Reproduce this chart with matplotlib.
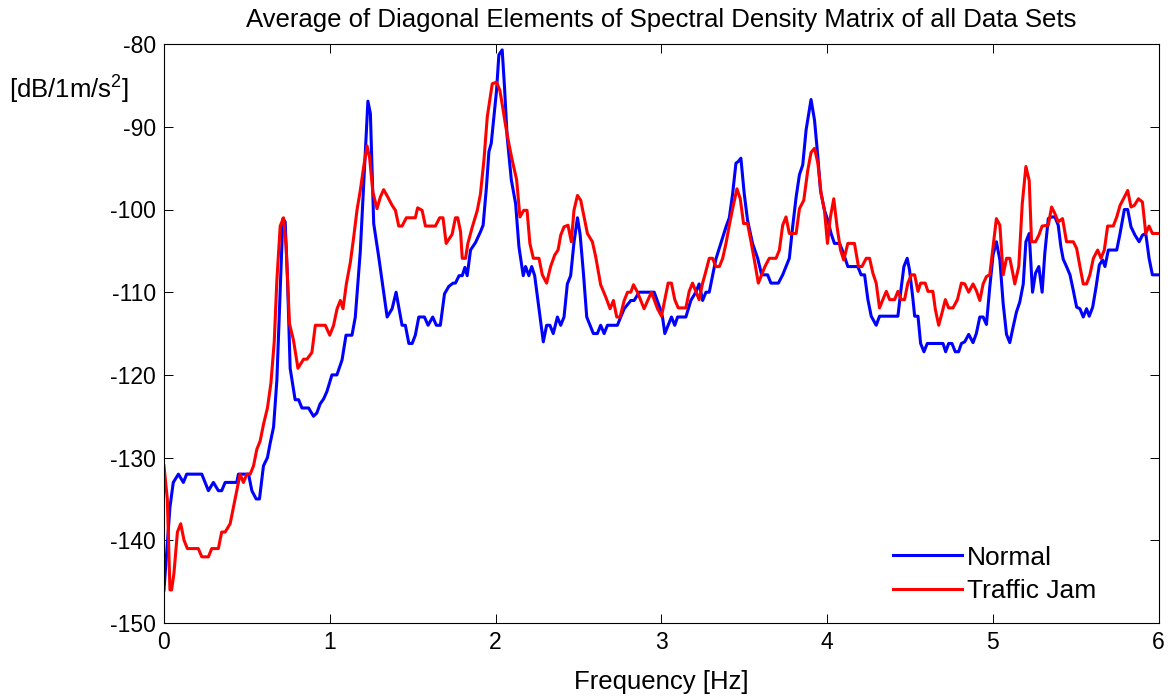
import numpy as np
import matplotlib
matplotlib.use("Agg")
import matplotlib.pyplot as plt

plt.rcParams['font.family'] = ['Liberation Sans', 'DejaVu Sans']
plt.rcParams['mathtext.fontset'] = 'custom'
plt.rcParams['mathtext.rm'] = 'Liberation Sans'
plt.rcParams['mathtext.it'] = 'Liberation Sans'
plt.rcParams['axes.unicode_minus'] = False

# Normal (blue) - frequency [Hz] and level [dB]
freq_normal = [
    0.000, 0.036, 0.056, 0.087, 0.117, 0.137, 0.228, 0.268, 0.298, 0.328,
    0.348, 0.369, 0.439, 0.449, 0.510, 0.530, 0.556, 0.576, 0.600, 0.624,
    0.640, 0.661, 0.681, 0.701, 0.717, 0.731, 0.745, 0.761, 0.791, 0.812,
    0.832, 0.872, 0.902, 0.922, 0.942, 0.963, 0.983, 1.013, 1.043, 1.074,
    1.098, 1.134, 1.154, 1.184, 1.204, 1.230, 1.245, 1.265, 1.295, 1.320,
    1.346, 1.376, 1.400, 1.436, 1.456, 1.477, 1.497, 1.516, 1.537, 1.571,
    1.593, 1.621, 1.643, 1.667, 1.692, 1.718, 1.744, 1.758, 1.780, 1.799,
    1.815, 1.829, 1.849, 1.879, 1.909, 1.925, 1.945, 1.960, 1.974, 1.986,
    2.006, 2.020, 2.040, 2.054, 2.070, 2.095, 2.121, 2.141, 2.167, 2.181,
    2.201, 2.218, 2.236, 2.262, 2.288, 2.308, 2.328, 2.348, 2.373, 2.393,
    2.413, 2.433, 2.453, 2.473, 2.494, 2.510, 2.530, 2.550, 2.574, 2.590,
    2.614, 2.634, 2.655, 2.675, 2.735, 2.755, 2.776, 2.816, 2.836, 2.866,
    2.896, 2.957, 2.993, 3.007, 3.021, 3.041, 3.061, 3.081, 3.098, 3.148,
    3.178, 3.208, 3.228, 3.249, 3.269, 3.289, 3.309, 3.329, 3.360, 3.390,
    3.410, 3.430, 3.450, 3.464, 3.480, 3.500, 3.520, 3.550, 3.581, 3.605,
    3.641, 3.661, 3.706, 3.732, 3.772, 3.792, 3.813, 3.833, 3.853, 3.873,
    3.903, 3.924, 3.944, 3.960, 3.984, 4.004, 4.024, 4.044, 4.075, 4.095,
    4.125, 4.185, 4.205, 4.226, 4.246, 4.266, 4.296, 4.316, 4.427, 4.443,
    4.463, 4.483, 4.497, 4.518, 4.528, 4.548, 4.564, 4.584, 4.604, 4.699,
    4.715, 4.733, 4.753, 4.773, 4.793, 4.810, 4.830, 4.854, 4.880, 4.900,
    4.921, 4.941, 4.961, 4.981, 5.001, 5.021, 5.042, 5.062, 5.082, 5.102,
    5.122, 5.142, 5.162, 5.183, 5.199, 5.219, 5.239, 5.257, 5.277, 5.297,
    5.313, 5.334, 5.354, 5.374, 5.394, 5.410, 5.424, 5.444, 5.465, 5.485,
    5.505, 5.525, 5.545, 5.565, 5.581, 5.602, 5.622, 5.642, 5.662, 5.676,
    5.696, 5.747, 5.767, 5.793, 5.813, 5.833, 5.857, 5.882, 5.902, 5.922,
    5.942, 5.962, 6.000]
normal_db = [
    -146, -136, -133, -132, -133, -132, -132, -134, -133, -134,
    -134, -133, -133, -132, -132, -134, -135, -135, -131, -130,
    -128.3, -126.3, -120.6, -109.8, -101.1, -101.5, -108.5, -119.2, -123, -123,
    -124, -124, -125, -124.6, -123.5, -122.9, -122, -120, -120, -118.2,
    -115.2, -115.2, -113, -105.1, -97.3, -86.9, -88.4, -101.7, -105.7, -109.3,
    -113, -112, -110, -114, -114, -116.2, -116.2, -115.2, -113, -113,
    -114, -113, -114, -114, -110.2, -109.3, -108.9, -108.9, -108, -108,
    -107, -108, -104.9, -104, -102.7, -101.9, -97.3, -93, -92, -89.6,
    -85.6, -81.3, -80.7, -85.2, -91.2, -96.4, -99.3, -104.5, -108, -106.9,
    -108, -106.9, -108, -112, -116, -114, -114, -115, -113, -114,
    -113, -109, -108, -104, -101, -103, -107.7, -113, -114.2, -115,
    -115, -114, -115, -114, -114, -113, -112, -111, -111, -110,
    -110, -110, -112, -113, -115, -114, -113, -114, -113, -113,
    -111, -110, -109, -111, -110, -110, -108, -106, -104, -102.1,
    -101, -98.1, -94.4, -94.2, -93.8, -98.1, -101.3, -104.1, -105.9, -107.9,
    -107.9, -108.9, -108.9, -107.9, -105.9, -102.1, -98.5, -95.8, -94.6, -90.4,
    -86.7, -89.2, -93.6, -97.7, -100.1, -101.3, -102.9, -104.1, -104.1, -105.1,
    -106.9, -106.9, -107.9, -107.9, -110.9, -112.9, -114, -112.9, -112.9, -110.1,
    -106.9, -105.9, -107.3, -110.9, -112.9, -112.9, -116.2, -117.2, -116.2, -116.2,
    -117.2, -116.2, -116.2, -117.2, -117.2, -116.2, -116, -115.1, -116.1, -115,
    -113, -113, -113.9, -109.4, -105.5, -103.9, -106.1, -111.4, -115.1, -116.1,
    -114.2, -112.4, -111.2, -109, -103.9, -102.9, -110, -107.7, -106.9, -110,
    -105.3, -101.1, -100.9, -100.9, -101.9, -104.5, -106, -106.9, -107.9, -109.8,
    -111.8, -112, -113, -112, -112.9, -111.8, -109.4, -106.7, -106.1, -106.9,
    -104.9, -104.9, -102.9, -100, -100, -102.1, -103.1, -103.9, -103.1, -102.9,
    -105.9, -107.9, -107.9]

# Traffic Jam (red)
freq_jam = [
    0.000, 0.020, 0.036, 0.046, 0.060, 0.081, 0.101, 0.121, 0.141, 0.207,
    0.228, 0.268, 0.288, 0.328, 0.348, 0.369, 0.399, 0.419, 0.439, 0.459,
    0.479, 0.500, 0.520, 0.540, 0.560, 0.580, 0.600, 0.624, 0.645, 0.665,
    0.681, 0.701, 0.721, 0.737, 0.757, 0.781, 0.808, 0.842, 0.862, 0.892,
    0.913, 0.973, 1.000, 1.023, 1.044, 1.064, 1.080, 1.100, 1.124, 1.144,
    1.164, 1.184, 1.204, 1.225, 1.240, 1.260, 1.285, 1.305, 1.325, 1.350,
    1.376, 1.396, 1.416, 1.436, 1.462, 1.516, 1.530, 1.557, 1.577, 1.637,
    1.663, 1.683, 1.702, 1.738, 1.758, 1.772, 1.789, 1.799, 1.819, 1.833,
    1.860, 1.890, 1.909, 1.930, 1.950, 1.980, 2.006, 2.026, 2.046, 2.060,
    2.080, 2.100, 2.127, 2.147, 2.170, 2.190, 2.207, 2.228, 2.262, 2.282,
    2.308, 2.332, 2.357, 2.377, 2.393, 2.413, 2.437, 2.457, 2.473, 2.494,
    2.514, 2.534, 2.554, 2.584, 2.604, 2.634, 2.665, 2.691, 2.711, 2.731,
    2.751, 2.776, 2.796, 2.816, 2.832, 2.856, 2.896, 2.940, 2.977, 3.001,
    3.021, 3.041, 3.061, 3.081, 3.102, 3.148, 3.168, 3.188, 3.208, 3.228,
    3.249, 3.263, 3.289, 3.309, 3.329, 3.350, 3.370, 3.390, 3.410, 3.430,
    3.456, 3.476, 3.496, 3.520, 3.541, 3.561, 3.585, 3.605, 3.625, 3.651,
    3.692, 3.712, 3.732, 3.752, 3.772, 3.813, 3.833, 3.859, 3.883, 3.903,
    3.924, 3.944, 3.964, 3.984, 4.002, 4.020, 4.040, 4.060, 4.081, 4.100,
    4.125, 4.165, 4.189, 4.210, 4.236, 4.256, 4.276, 4.296, 4.316, 4.336,
    4.357, 4.377, 4.407, 4.427, 4.447, 4.467, 4.487, 4.508, 4.528, 4.548,
    4.564, 4.592, 4.608, 4.638, 4.653, 4.673, 4.693, 4.713, 4.733, 4.759,
    4.786, 4.810, 4.830, 4.854, 4.880, 4.900, 4.921, 4.941, 4.961, 4.981,
    5.001, 5.021, 5.042, 5.062, 5.082, 5.102, 5.122, 5.132, 5.156, 5.177,
    5.199, 5.219, 5.233, 5.257, 5.277, 5.297, 5.334, 5.354, 5.374, 5.394,
    5.420, 5.444, 5.485, 5.505, 5.525, 5.545, 5.565, 5.585, 5.606, 5.632,
    5.652, 5.672, 5.692, 5.726, 5.747, 5.767, 5.793, 5.813, 5.833, 5.853,
    5.878, 5.902, 5.922, 5.942, 5.962, 6.000]
jam_db = [
    -131, -135, -146, -146, -144, -139, -138, -140, -141, -141,
    -142, -142, -141, -141, -139, -139, -138, -136, -134, -132,
    -133, -132, -132, -131, -129, -128, -126, -124, -121, -116,
    -108.5, -102, -101, -104.5, -113.8, -115.8, -119.2, -118.1, -118.1, -117.3,
    -114, -114, -115.2, -114, -112, -111, -112, -109, -106.4, -103.4,
    -100.1, -97.7, -94.9, -92.3, -93.7, -97.9, -99.9, -98.5, -97.6, -98.5,
    -99.5, -100.1, -102, -102, -101, -101, -99.8, -100.1, -102, -102,
    -101, -101, -104.1, -103, -101, -101, -102.7, -105.9, -105.9, -104.1,
    -102.1, -100.1, -98.1, -94, -88.8, -84.8, -84.6, -85.6, -88, -89.8,
    -92, -94, -96.4, -100.9, -100.1, -100.1, -104.1, -105.9, -105.9, -107.9,
    -108.9, -106.9, -105.5, -104.9, -103.1, -102.1, -101.9, -103.9, -100.1, -98.3,
    -98.9, -100.9, -102.9, -103.9, -105.7, -109.1, -110.6, -112, -111, -113,
    -113, -111, -110, -110, -109.1, -110, -112, -110, -112, -112.9,
    -110.9, -108.9, -108.9, -110.9, -111.9, -111.9, -109.9, -108.9, -109.9, -110.9,
    -108.9, -107.9, -105.9, -105.9, -106.9, -106.9, -105.9, -104.1, -101.9, -99.9,
    -97.5, -98.7, -101.7, -101.7, -103.9, -106.1, -108.9, -107.9, -106.9, -105.9,
    -105.9, -104.9, -101.9, -100.9, -102.9, -102.9, -99.9, -98.9, -95.3, -93.1,
    -92.6, -94.4, -98.1, -100.1, -104.1, -100.9, -98.7, -102.1, -104.9, -106.1,
    -104.1, -104.1, -106.9, -106.9, -105.9, -105.9, -107.7, -108.9, -111.9, -110.9,
    -109.9, -110.9, -110.9, -109.9, -110.9, -110.9, -108.9, -107.9, -107.9, -109.9,
    -108.9, -108.9, -109.9, -109.9, -112.1, -114, -112.5, -110.9, -111.9, -111.9,
    -110.9, -108.9, -109, -110, -109, -109.8, -111, -109, -108.1, -107.9,
    -104.5, -101.1, -101.9, -107.9, -105.9, -105.9, -107.9, -109, -106.9, -99.3,
    -94.8, -96.5, -103.9, -103.9, -103.1, -102, -101.9, -99.7, -100.5, -101.5,
    -101.1, -103.9, -103.9, -104.7, -106.9, -109, -109, -107.9, -105.9, -104.9,
    -105.9, -104.9, -102, -102, -100.9, -99.5, -98.5, -97.7, -99.7, -99.5,
    -98.7, -99.1, -102.9, -102, -102.9, -102.9]

fig = plt.figure(figsize=(11.73, 7.0), dpi=100)
ax = fig.add_axes([0.1398, 0.110, 0.848, 0.827])

ax.plot(freq_normal, normal_db, color=(0, 0, 1), lw=2.2, label='Normal')
ax.plot(freq_jam, jam_db, color=(1, 0, 0), lw=2.2, label='Traffic Jam')

ax.set_xlim(0, 6)
ax.set_ylim(-150, -80)
ax.set_xticks(np.arange(0, 7, 1))
ax.set_yticks(np.arange(-150, -79, 10))
ax.tick_params(direction='in', top=True, right=True, length=6.5, width=0.7,
               labelsize=16.5, pad=6)
for s in ax.spines.values():
    s.set_linewidth(0.8)

ax.set_title('Average of Diagonal Elements of Spectral Density Matrix of all Data Sets',
             fontsize=18.5, pad=12)
ax.set_xlabel('Frequency [Hz]', fontsize=18.5, labelpad=11)
fig.text(0.008, 0.872, '[dB/1m/s$^2$]', fontsize=18.5, ha='left', va='center')

ax.legend(loc='lower left', bbox_to_anchor=(0.733, 0.035), frameon=False,
          borderpad=0, borderaxespad=0,
          fontsize=19, handlelength=2.6, handletextpad=0.2, labelspacing=0.35)

plt.savefig('out.png', dpi=100)
